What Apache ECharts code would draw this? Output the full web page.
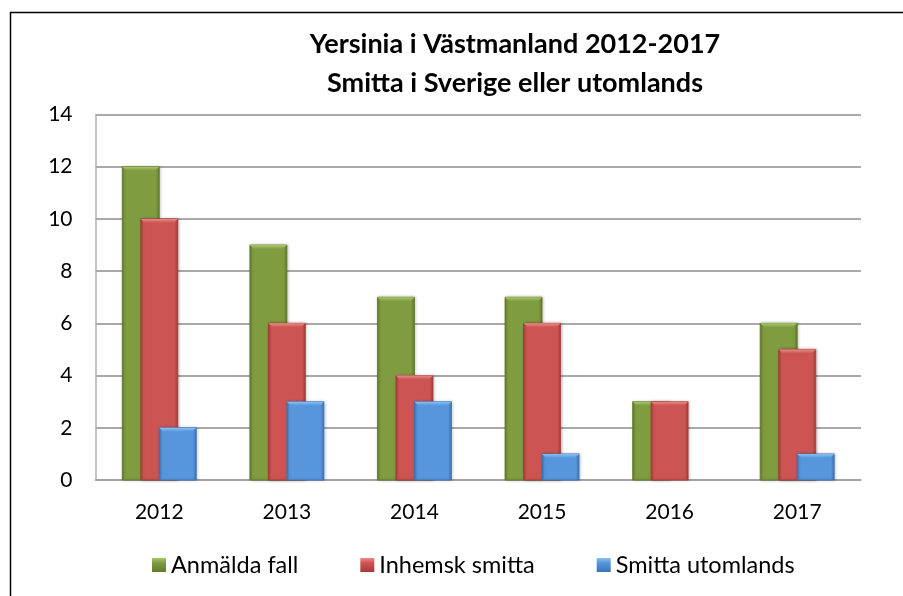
<!DOCTYPE html>
<html>
<head>
<meta charset="utf-8">
<script src="https://cdn.jsdelivr.net/npm/echarts@6/dist/echarts.min.js"></script>
<style>
  html, body { margin: 0; padding: 0; background: #fff; }
  #chart { width: 903px; height: 596px; }
</style>
</head>
<body>
<div id="chart"></div>
<script>
// Yersinia cases in Västmanland, 2012-2017
const years = ['2012', '2013', '2014', '2015', '2016', '2017'];
const anmaldaFall = [12, 9, 7, 7, 3, 6];
const inhemskSmitta = [10, 6, 4, 6, 3, 5];
const smittaUtomlands = [2, 3, 3, 1, 0, 1];
const yTicks = [0, 2, 4, 6, 8, 10, 12, 14];

const FONT = 'Lato, "Open Sans", sans-serif';

// shading for each series: base, dark edge, light top bevel
const palettes = [
  { base: '#7f9c40', dark: '#62792d', light: '#a9c86b' },
  { base: '#cc5452', dark: '#a53c3a', light: '#ec8a87' },
  { base: '#5796dc', dark: '#3c74b5', light: '#8cc0f2' }
];

const BAR_RATIO = 0.29;   // bar width as a share of the category band
const STEP = 0.5;         // neighbouring bars overlap by half a bar

function makeRenderer(seriesIndex) {
  const pal = palettes[seriesIndex];
  return function (params, api) {
    const v = api.value(1);
    if (!v) return null;
    const base = api.coord([api.value(0), 0]);
    const top = api.coord([api.value(0), v]);
    const band = api.size([1, 0])[0];
    const w = band * BAR_RATIO;
    const cx = base[0] + (seriesIndex - 1) * w * STEP;
    const x = cx - w / 2;
    const y = top[1];
    const h = base[1] - top[1];
    const b = Math.min(4, h / 2);
    return {
      type: 'group',
      children: [
        {
          type: 'rect',
          shape: { x: x, y: y, width: w, height: h },
          style: {
            fill: new echarts.graphic.LinearGradient(0, 0, 1, 0, [
              { offset: 0, color: pal.dark },
              { offset: 0.08, color: pal.base },
              { offset: 0.9, color: pal.base },
              { offset: 1, color: pal.dark }
            ]),
            stroke: pal.dark,
            lineWidth: 0.8,
            shadowBlur: 3,
            shadowColor: 'rgba(0,0,0,0.25)',
            shadowOffsetX: 1,
            shadowOffsetY: 0
          }
        },
        {
          type: 'polygon',
          shape: { points: [[x, y], [x + w, y], [x + w - b, y + b], [x + b, y + b]] },
          style: {
            fill: new echarts.graphic.LinearGradient(0, 0, 0, 1, [
              { offset: 0, color: pal.light },
              { offset: 1, color: pal.base }
            ])
          }
        }
      ]
    };
  };
}

function toData(values) {
  return values.map((v, i) => [i, v]);
}

const seriesNames = ['Anmälda fall', 'Inhemsk smitta', 'Smitta utomlands'];
const seriesValues = [anmaldaFall, inhemskSmitta, smittaUtomlands];

const chart = echarts.init(document.getElementById('chart'), null, { renderer: 'canvas' });

chart.setOption({
  backgroundColor: '#ffffff',
  animation: false,
  title: {
    text: 'Yersinia i Västmanland 2012-2017\nSmitta i Sverige eller utomlands',
    left: 515,
    textAlign: 'center',
    top: 25,
    padding: 0,
    textStyle: {
      fontFamily: FONT,
      fontWeight: 'bold',
      fontSize: 27,
      lineHeight: 39,
      color: '#000'
    }
  },
  legend: {
    left: 152,
    top: 553,
    padding: 0,
    itemWidth: 14,
    itemHeight: 14,
    itemGap: 62,
    icon: 'rect',
    textStyle: { fontFamily: FONT, fontSize: 23.5, color: '#000' },
    data: seriesNames.map((n, i) => ({
      name: n,
      itemStyle: {
        color: new echarts.graphic.LinearGradient(0, 0, 0, 1, [
          { offset: 0, color: palettes[i].light },
          { offset: 0.35, color: palettes[i].base },
          { offset: 1, color: palettes[i].dark }
        ])
      }
    }))
  },
  grid: { left: 95.5, right: 42, top: 114.5, bottom: 116 },
  xAxis: {
    type: 'category',
    data: years,
    axisLine: { show: true, lineStyle: { color: '#a0a0a0', width: 1.5 } },
    axisTick: { show: false },
    axisLabel: { fontFamily: FONT, fontSize: 21, color: '#000', margin: 22 }
  },
  yAxis: {
    type: 'value',
    min: 0,
    max: 14,
    interval: 2,
    axisLine: { show: true, lineStyle: { color: '#b0b0b0', width: 1.5 } },
    axisTick: { show: false },
    axisLabel: {
      fontFamily: FONT, fontSize: 21, color: '#000', margin: 23,
      formatter: v => (yTicks.indexOf(v) >= 0 ? String(v) : '')
    },
    splitLine: { show: true, lineStyle: { color: '#8c8c8c', width: 1.5 } }
  },
  graphic: [
    {
      type: 'rect',
      left: 8,
      top: 10,
      shape: { width: 1000, height: 1000 },
      style: { fill: 'none', stroke: '#000', lineWidth: 1.5 },
      silent: true,
      z: 10
    }
  ],
  series: seriesNames.map((n, i) => ({
    name: n,
    type: 'custom',
    renderItem: makeRenderer(i),
    itemStyle: { color: palettes[i].base },
    encode: { x: 0, y: 1 },
    data: toData(seriesValues[i])
  }))
});
</script>
</body>
</html>
